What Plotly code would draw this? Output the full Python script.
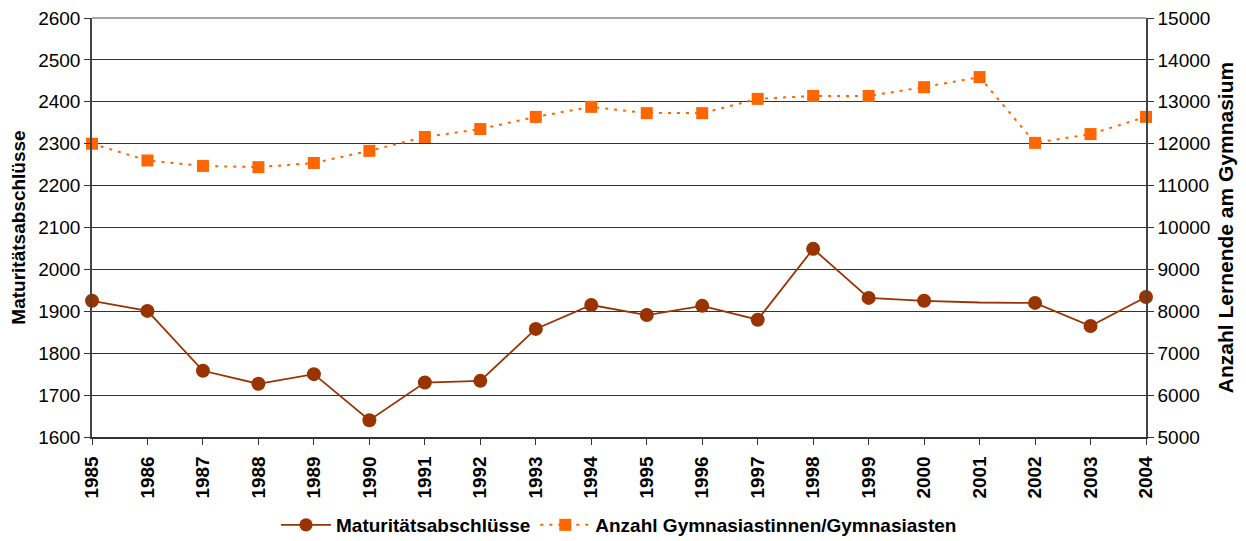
import plotly.graph_objects as go

years = [str(y) for y in range(1985, 2005)]
maturitaet = [1925, 1901, 1758, 1727, 1750, 1640, 1730, 1734, 1858, 1915,
              1891, 1913, 1880, 2049, 1932, 1925, 1921, 1920, 1865, 1934]
gymnasiasten = [12000, 11600, 11470, 11440, 11540, 11830, 12160, 12350, 12640, 12880,
                12730, 12730, 13070, 13140, 13140, 13350, 13590, 12020, 12230, 12640]
left_ticks = list(range(1600, 2601, 100))
right_ticks = list(range(5000, 15001, 1000))

brown = "#993300"
orange = "#FF6600"
font = "Liberation Sans, Arial, sans-serif"

msizes = [14] * len(years)
msizes[years.index("2001")] = 0

fig = go.Figure()
fig.add_trace(go.Scatter(
    x=years, y=maturitaet, name="Maturitätsabschlüsse",
    mode="lines+markers",
    line=dict(color=brown, width=1.8),
    marker=dict(color=brown, size=msizes, symbol="circle", opacity=1, line=dict(width=0)),
    cliponaxis=False, yaxis="y"))
fig.add_trace(go.Scatter(
    x=years, y=gymnasiasten, name="Anzahl Gymnasiastinnen/Gymnasiasten",
    mode="lines+markers",
    line=dict(color=orange, width=2, dash="3px,6px"),
    marker=dict(color=orange, size=12, symbol="square", opacity=1, line=dict(width=0)),
    cliponaxis=False, yaxis="y2"))

# page body has an 8px margin: figure is sized so the plot lands where the reference has it
fig.update_layout(
    width=1238, height=546,
    margin=dict(l=84, r=100, t=10, b=117),
    paper_bgcolor="white", plot_bgcolor="white",
    font=dict(family=font, size=19, color="black"),
    showlegend=True,
    legend=dict(orientation="h", x=0.5, xanchor="center", y=-0.21, yanchor="middle",
                itemwidth=50, borderwidth=0,
                font=dict(family=font, size=19, color="black", weight="bold")),
    xaxis=dict(
        type="category", range=[0, len(years) - 1], automargin=False,
        tickangle=-90, tickfont=dict(family=font, size=19, weight="bold"),
        ticklabelstandoff=4, ticklabeloverflow="allow",
        showline=True, linecolor="#333", linewidth=1.5,
        ticks="outside", ticklen=6, tickcolor="#333",
        showgrid=False, zeroline=False),
    yaxis=dict(
        range=[1600, 2600], tickvals=left_ticks, automargin=False,
        ticklabeloverflow="allow",
        title=dict(text="Maturitätsabschlüsse", font=dict(family=font, size=19, weight="bold"), standoff=14),
        showline=True, linecolor="#444", linewidth=1.5,
        ticks="outside", ticklen=6, tickcolor="#333",
        showgrid=True, gridcolor="#333", gridwidth=1, zeroline=False),
    yaxis2=dict(
        range=[5000, 15000], tickvals=right_ticks, ticktext=[str(v) for v in right_ticks],
        overlaying="y", side="right", automargin=False,
        ticklabeloverflow="allow",
        title=dict(text="Anzahl Lernende am Gymnasium", font=dict(family=font, size=21, weight="bold"), standoff=9),
        showline=True, linecolor="#444", linewidth=1.5,
        ticks="outside", ticklen=6, tickcolor="#333",
        showgrid=False, zeroline=False),
    shapes=[dict(type="line", xref="paper", yref="paper", x0=0, x1=1, y0=1, y1=1,
                 line=dict(color="#888", width=1.5), layer="below")],
)

fig.write_html("out.html")
